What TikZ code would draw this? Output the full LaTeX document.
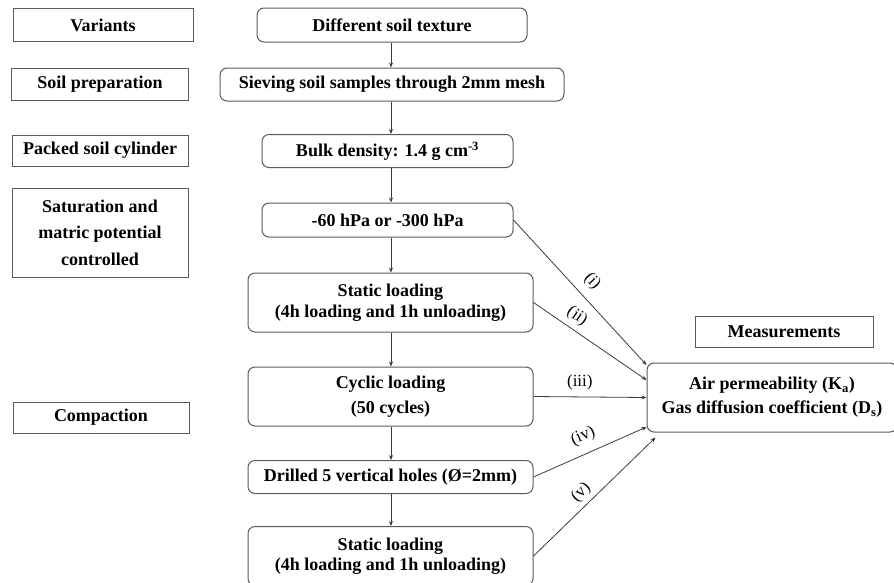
\documentclass[tikz,border=0pt]{standalone}
\usepackage{fontspec}
\setmainfont{Liberation Serif}
\usetikzlibrary{arrows.meta,calc}
\definecolor{boxgray}{HTML}{5A5A5A}
\definecolor{linegray}{HTML}{3A3A3A}
\begin{document}
\begin{tikzpicture}[x=1pt,y=-1pt,
  sq/.style={draw=boxgray, line width=1pt, inner sep=0pt, align=center,
    font=\bfseries\fontsize{18}{20}\selectfont},
  rd/.style={sq, rounded corners=7pt},
  sz/.style 2 args={minimum width=#1, minimum height=#2},
  arr/.style={draw=linegray, line width=0.8pt, -{Stealth[length=5pt,width=4pt]}},
  lab/.style={inner sep=0pt, font=\fontsize{17}{17}\selectfont}
]
\useasboundingbox (0,0) rectangle (894,582);

% left column
\node[sq, sz={180pt}{33pt}] (var) at (103,25) {Variants};
\node[sq, sz={177pt}{32pt}] (prep) at (100,84) {Soil preparation};
\node[sq, sz={176pt}{31pt}] (pack) at (100,150.5) {Packed soil cylinder};
\node[sq, sz={176pt}{89pt}, font=\bfseries\fontsize{18}{26.5}\selectfont] (sat) at (100,232.5)
  {Saturation and\\matric potential\\controlled};
\node[sq, sz={176pt}{31pt}] (comp) at (101,417.5) {Compaction};
\node[sq, sz={178pt}{31pt}] (meas) at (784,331.5) {Measurements};

% centre column
\node[rd, sz={270pt}{34pt}] (dst) at (392,25) {Different soil texture};
\node[rd, sz={344pt}{33pt}] (sieve) at (392,84.5) {Sieving soil samples through 2mm mesh};
\node[rd, sz={251pt}{33pt}] (bulk) at (387.5,151) {Bulk density: 1.4 g cm\textsuperscript{-3}};
\node[rd, sz={251pt}{34pt}] (pot) at (387.5,220) {-60 hPa or -300 hPa};
\node[rd, sz={285pt}{59pt}, font=\bfseries\fontsize{18}{21}\selectfont] (st1) at (390.5,302.5)
  {Static loading\\(4h loading and 1h unloading)};
\node[rd, sz={285pt}{59pt}, font=\bfseries\fontsize{18}{25}\selectfont] (cyc) at (390.5,396.5)
  {Cyclic loading\\(50 cycles)};
\node[rd, sz={285pt}{33pt}] (dr) at (390.5,477) {Drilled 5 vertical holes (Ø=2mm)};
\node[rd, sz={285pt}{59pt}, font=\bfseries\fontsize{18}{20}\selectfont] (st2) at (390.5,556)
  {Static loading\\(4h loading and 1h unloading)};

% measurement target
\node[rd, sz={250pt}{69pt}, font=\bfseries\fontsize{18}{24}\selectfont] (air) at (772,397.5)
  {Air permeability (K\textsubscript{a})\\Gas diffusion coefficient (D\textsubscript{s})};

% vertical flow
\coordinate (col) at (391,0);
\draw[arr] (dst.south -| col) -- (sieve.north -| col);
\draw[arr] (sieve.south -| col) -- (bulk.north -| col);
\draw[arr] (bulk.south -| col) -- (pot.north -| col);
\draw[arr] (pot.south -| col) -- (st1.north -| col);
\draw[arr] (st1.south -| col) -- (cyc.north -| col);
\draw[arr] (cyc.south -| col) -- (dr.north -| col);
\draw[arr] (dr.south -| col) -- (st2.north -| col);

% paths to measurements
\draw[arr] (pot.east) -- node[lab, sloped, above=8.5pt, pos=0.50] {(i)} ($(air.west)+(0,-32.5)$);
\draw[arr] (st1.east) -- node[lab, sloped, above=5pt, pos=0.32] {(ii)} ($(air.west)+(0,-17.5)$);
\draw[arr] (cyc.east) -- node[lab, above=6pt, pos=0.41] {(iii)} (air.west);
\draw[arr] (dr.east) -- node[lab, sloped, above=9pt, pos=0.50] {(iv)} ($(air.west)+(0,29.5)$);
\draw[arr] (st2.east) -- node[lab, sloped, above=4pt, pos=0.46] {(v)} ($(air.south west)+(9,5)$);
\end{tikzpicture}
\end{document}
